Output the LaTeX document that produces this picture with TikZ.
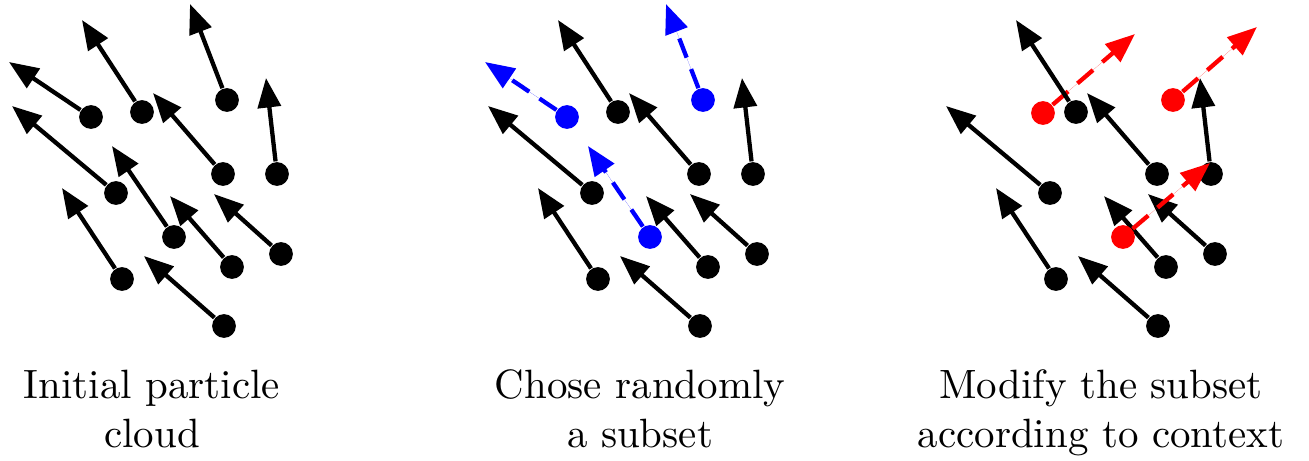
\documentclass[tikz,border=0pt]{standalone}
\usepackage{xcolor}
\usepackage{tikz}
\usetikzlibrary{arrows.meta}

\begin{document}
\begin{tikzpicture}[x=0.2443pt,y=-0.2443pt,
  particle/.style={circle,fill=#1,inner sep=0pt,minimum size=5.8pt},
  particle/.default=black,
  vel/.style={-{Triangle[length=7.2pt,width=5.6pt]},line width=1.05pt},
  moved/.style={vel,draw=#1,fill=#1,dash pattern=on 5pt off 3pt},
  caption/.style={align=center,anchor=north,inner sep=0pt}]
  \useasboundingbox (0,0) rectangle (1309,461);
  % ── Panel 1: full cloud ─────────────────────────────
  \foreach \i/\px/\py/\tx/\ty in {1/91/117/9/62, 2/142/112/82/20, 3/227/100/190/4,
      4/277/174/266/78, 5/223/174/153/93, 6/116/193/12/106, 7/174/237/112/146,
      8/122/279/62/188, 9/232/267/170/196, 10/281/254/214/194, 11/224/326/144/256} {
    \node[particle] (a\i) at (\px,\py) {};
    \coordinate (ta\i) at (\tx,\ty);
    \draw[vel] (a\i) -- (ta\i);
  }
  \node[caption] (capa) at (152,369) {Initial particle\\cloud};
  % ── Panel 2: random subset in blue ──────────────────
  \begin{scope}[shift={(476,0)}]
    \foreach \i/\px/\py/\tx/\ty in {2/142/112/82/20, 4/277/174/266/78,
        5/223/174/153/93, 6/116/193/12/106, 8/122/279/62/188,
        9/232/267/170/196, 10/281/254/214/194, 11/224/326/144/256} {
      \node[particle] (b\i) at (\px,\py) {};
      \coordinate (tb\i) at (\tx,\ty);
      \draw[vel] (b\i) -- (tb\i);
    }
    \foreach \i/\px/\py/\tx/\ty in {1/91/117/9/62, 3/227/100/190/4, 7/174/237/112/146} {
      \node[particle=blue] (b\i) at (\px,\py) {};
      \coordinate (tb\i) at (\tx,\ty);
      \draw[moved=blue] (b\i) -- (tb\i);
    }
    \node[caption] (capb) at (164,369) {Chose randomly\\a subset};
  \end{scope}
  % ── Panel 3: subset moved in red ────────────────────
  \begin{scope}[shift={(934,0)}]
    % red ones under the cloud
    \foreach \i/\px/\py/\tx/\ty in {1/109/113/201/34, 3/239/100/323/27} {
      \node[particle=red] (r\i) at (\px,\py) {};
      \coordinate (tr\i) at (\tx,\ty);
      \draw[moved=red] (r\i) -- (tr\i);
    }
    \foreach \i/\px/\py/\tx/\ty in {2/142/112/82/20, 4/277/174/266/78,
        5/223/174/153/93, 6/116/193/12/106, 8/122/279/62/188,
        9/232/267/170/196, 10/281/254/214/194, 11/224/326/144/256} {
      \node[particle] (c\i) at (\px,\py) {};
      \coordinate (tc\i) at (\tx,\ty);
      \draw[vel] (c\i) -- (tc\i);
    }
    % red one over the cloud
    \node[particle=red] (r7) at (189,237) {};
    \coordinate (tr7) at (276,163);
    \draw[moved=red] (r7) -- (tr7);
    \node[caption] (capc) at (167,369) {Modify the subset\\according to context};
  \end{scope}
\end{tikzpicture}
\end{document}
